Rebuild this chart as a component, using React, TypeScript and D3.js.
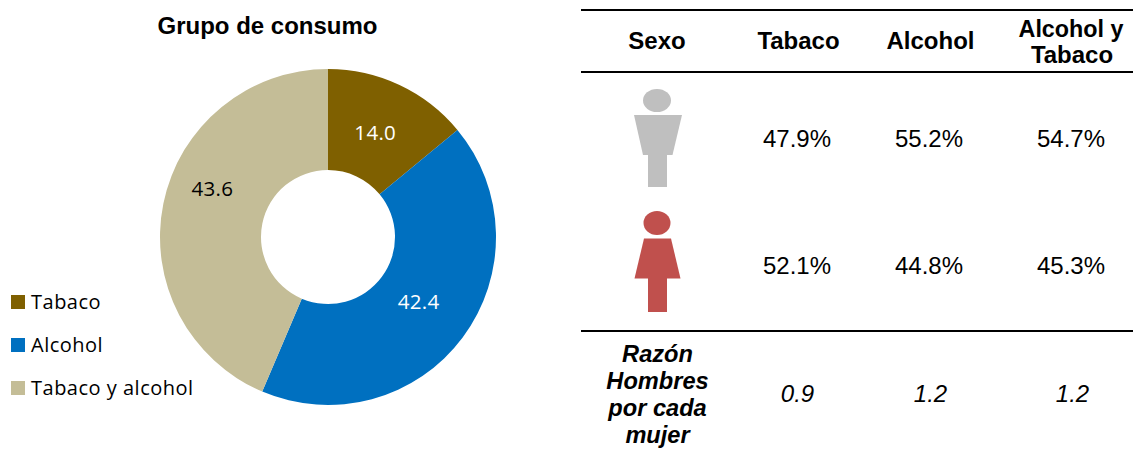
import React from "react";
import * as d3 from "d3";

const categories = ["Tabaco", "Alcohol", "Tabaco y alcohol"];
const values = [14.0, 42.4, 43.6];
const colors = ["#7F6000", "#0070C0", "#C4BD97"];
const labelColors = ["#FFFFFF", "#FFFFFF", "#000000"];
const chartTitle = "Grupo de consumo";
const hombres = ["47.9%", "55.2%", "54.7%"];
const mujeres = ["52.1%", "44.8%", "45.3%"];
const razon = ["0.9", "1.2", "1.2"];
const razonLabel = ["Razón", "Hombres", "por cada", "mujer"];
const columnX = [797, 929, 1071];

const calibri = "'Open Sans', Lato, sans-serif";
const arial = "'Liberation Sans', Arial, sans-serif";
const labelNudge = [[-3, 3], [-4, -6], [0, -25]];

export default function App() {
  const cx = 328, cy = 237, R = 168, r = 67;
  const pie = d3.pie<number>().sort(null)(values);
  const arc = d3.arc<d3.PieArcDatum<number>>().innerRadius(r).outerRadius(R);
  const labelArc = d3.arc<d3.PieArcDatum<number>>().innerRadius(118).outerRadius(118);
  const head = (t: string, x: number, y: number, size = 24) => (
    <text x={x} y={y} textAnchor="middle" fontFamily={arial} fontWeight="bold" fontSize={size} fill="#000">{t}</text>
  );
  const cell = (t: string, x: number, y: number, italic = false) => (
    <text key={t + x + y} x={x} y={y} textAnchor="middle" fontFamily={arial} fontStyle={italic ? "italic" : "normal"} fontSize={24} fill="#000">{t}</text>
  );
  return (
    <svg width={1133} height={449} style={{ position: "fixed", left: 0, top: 0 }}>
      <rect width={1133} height={449} fill="#fff" />
      <text x={267.5} y={34} textAnchor="middle" fontFamily={arial} fontWeight="bold" fontSize={24} fill="#000">{chartTitle}</text>
      <g transform={`translate(${cx},${cy})`}>
        {pie.map((d, i) => <path key={i} d={arc(d) as string} fill={colors[i]} />)}
        {pie.map((d, i) => {
          const [x, y] = labelArc.centroid(d);
          return <text key={i} x={x + labelNudge[i][0]} y={y + labelNudge[i][1]} dy="0.35em" textAnchor="middle" fontFamily={calibri} fontSize={20.5} letterSpacing={0.3} fill={labelColors[i]}>{values[i].toFixed(1)}</text>;
        })}
      </g>
      {categories.map((c, i) => (
        <g key={c} transform={`translate(11,${295 + i * 43})`}>
          <rect width={14} height={14} fill={colors[i]} />
          <text x={20} y={14} fontFamily={calibri} fontSize={20} letterSpacing={0.5} fill="#000">{c}</text>
        </g>
      ))}
      <g stroke="#000" strokeWidth={2}>
        <line x1={581} x2={1133} y1={10} y2={10} />
        <line x1={581} x2={1133} y1={72} y2={72} />
        <line x1={581} x2={1133} y1={331} y2={331} />
      </g>
      {head("Sexo", 657, 49)}
      {head("Tabaco", columnX[0] + 1.5, 49)}
      {head("Alcohol", columnX[1] + 1.5, 49)}
      {head("Alcohol y", 1071, 37, 23.3)}
      {head("Tabaco", 1072, 63)}
      <g fill="#BFBFBF">
        <ellipse cx={657} cy={100.5} rx={14} ry={11.5} />
        <polygon points="634,115 682,115 672.5,155 643,155" />
        <rect x={648} y={155} width={19} height={32} />
      </g>
      <g fill="#C0504D">
        <ellipse cx={657} cy={223} rx={13.5} ry={12} />
        <polygon points="644,238.5 671,238.5 680.5,278.5 634.5,278.5" />
        <rect x={648} y={278} width={19} height={34} />
      </g>
      {hombres.map((t, i) => cell(t, columnX[i], 147))}
      {mujeres.map((t, i) => cell(t, columnX[i], 274))}
      {razon.map((t, i) => cell(t, columnX[i] + (i ? 1.5 : 0.5), 402, true))}
      {razonLabel.map((t, i) => (
        <text key={t} x={657.5} y={362 + i * 27} textAnchor="middle" fontFamily={arial} fontWeight="bold" fontStyle="italic" fontSize={23.6} fill="#000">{t}</text>
      ))}
    </svg>
  );
}
